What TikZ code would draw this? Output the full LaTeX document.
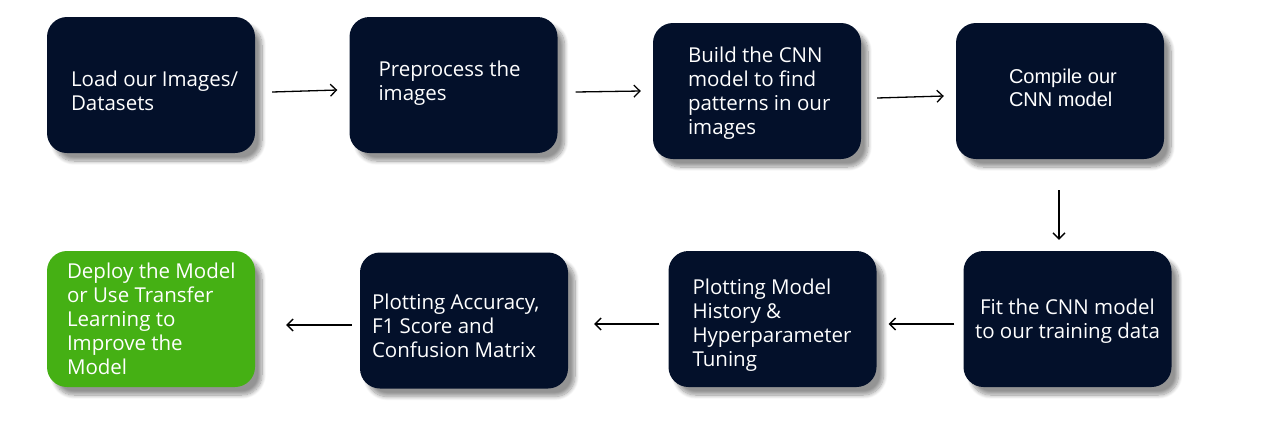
\documentclass[tikz,border=0pt]{standalone}
\usepackage{fontspec}
\setmainfont{Open Sans}
\newfontfamily\arialfont{Liberation Sans}
\usetikzlibrary{arrows.meta,calc,shadows.blur}
\definecolor{navy}{HTML}{03102A}
\definecolor{grn}{HTML}{45B014}
\tikzset{
  box/.style={draw=none, fill=navy, rounded corners=20pt, minimum width=208pt, minimum height=136pt, inner sep=0pt,
    blur shadow={shadow xshift=7pt, shadow yshift=-8pt, shadow blur steps=10, shadow blur radius=4pt, shadow blur extra rounding=2pt, shadow opacity=42}},
  txt/.style={text=white, inner sep=0pt, align=left, anchor=west, font=\fontsize{20.5}{24}\selectfont},
  conn/.style={line width=1.3pt, -{Straight Barb[length=6pt,width=12pt,line width=1.3pt]}}
}
\begin{document}
\begin{tikzpicture}[x=1pt,y=-1pt]
\useasboundingbox (0,0) rectangle (1269,432);
\node[box] (b1) at (151,85) {};
\node[box] (b2) at (453.5,85) {};
\node[box] (b3) at (757,91) {};
\node[box] (b4) at (1060,91) {};
\node[box] (b5) at (1067.5,319) {};
\node[box] (b6) at (772.5,319) {};
\node[box] (b7) at (464,320.5) {};
\node[box, fill=grn] (b8) at (151,319) {};
\node[txt] (t1) at ($(b1.west)+(24,6)$) {Load our Images/\\Datasets};
\node[txt] (t2) at ($(b2.west)+(29,-2)$) {Preprocess the\\images};
\node[txt] (t3) at ($(b3.west)+(35,2)$) {Build the CNN\\model to find\\patterns in our\\images};
\node[txt, font=\arialfont\fontsize{20}{23}\selectfont] (t4) at ($(b4.west)+(53,-3)$) {Compile our\\CNN model};
\node[txt, anchor=center, align=center] (t5) at ($(b5.center)+(0,2)$) {Fit the CNN model\\to our training data};
\node[txt] (t6) at ($(b6.west)+(24,6)$) {Plotting Model\\History \&\\Hyperparameter\\Tuning};
\node[txt] (t7) at ($(b7.west)+(12,5.5)$) {Plotting Accuracy,\\F1 Score and\\Confusion Matrix};
\node[txt] (t8) at ($(b8.west)+(20,0)$) {Deploy the Model\\or Use Transfer\\Learning to\\Improve the\\Model};
\draw[conn] ($(b1.east)+(17,7)$) -- ($(b2.west)+(-12,5)$);
\draw[conn] ($(b2.east)+(18,7)$) -- ($(b3.west)+(-12,0)$);
\draw[conn] ($(b3.east)+(16,7)$) -- ($(b4.west)+(-12,5)$);
\draw[conn] ($(b4.south)+(-1,31)$) -- ($(b5.north)+(-8.5,-11)$);
\draw[conn] ($(b5.west)+(-9,5)$) -- ($(b6.east)+(12,5)$);
\draw[conn] ($(b6.west)+(-9,5)$) -- ($(b7.east)+(26,3.5)$);
\draw[conn] ($(b7.west)+(-8,4.5)$) -- ($(b8.east)+(31,6)$);
\end{tikzpicture}
\end{document}
